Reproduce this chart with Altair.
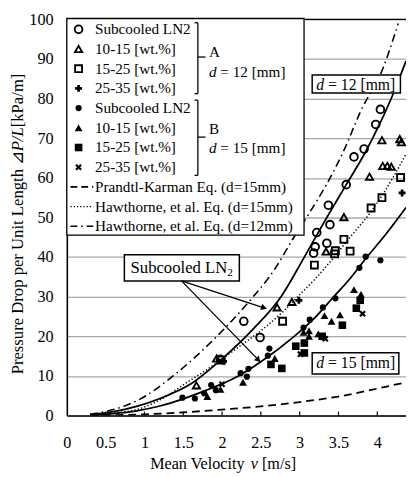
import math
import altair as alt
import pandas as pd

FONT = "Liberation Serif"
W, H = 346, 404          # plot area in px
XMAX, YMAX = 4.37, 100.0
PX0, PY0 = 68, 15        # page position of plot origin (top-left)

# ---------------- data ----------------
x_ticks = [0, 0.5, 1, 1.5, 2, 2.5, 3, 3.5, 4]
y_ticks = [0, 10, 20, 30, 40, 50, 60, 70, 80, 90, 100]

# A : d = 12 mm
a_ln2_x = [1.98, 2.28, 2.49, 3.18, 3.20, 3.22, 3.35, 3.39, 3.37, 3.60, 3.70, 3.83, 3.98, 4.04]
a_ln2_y = [14.2, 23.8, 19.7, 41.0, 42.6, 46.2, 43.5, 48.2, 53.1, 58.3, 65.3, 67.3, 73.5, 77.3]
a_1015_x = [1.67, 1.93, 2.71, 2.90, 3.34, 3.57, 3.90, 4.07, 4.13, 4.18, 4.06, 4.29, 4.31]
a_1015_y = [7.6, 14.4, 27.3, 28.7, 41.4, 50.1, 60.3, 63.0, 63.0, 62.8, 69.5, 69.8, 69.0]
a_1525_x = [1.99, 2.78, 3.19, 3.45, 3.46, 3.65, 3.57, 3.92, 4.06, 4.30]
a_1525_y = [14.0, 23.8, 38.0, 40.8, 41.6, 41.5, 44.5, 52.4, 55.0, 60.1]
a_2535_x = [2.02, 2.99, 4.32]
a_2535_y = [13.7, 29.1, 56.2]

# B : d = 15 mm
b_ln2_x = [1.49, 1.65, 1.77, 1.86, 1.92, 2.24, 2.34, 2.32, 2.59, 2.61, 3.05, 3.13, 3.30, 3.46, 3.77, 3.85, 4.04]
b_ln2_y = [4.5, 4.3, 5.6, 7.7, 6.4, 10.7, 11.8, 9.8, 15.1, 16.9, 22.2, 24.2, 27.3, 29.6, 37.3, 40.1, 39.2]
b_1015_x = [1.81, 1.98, 2.27, 2.68, 3.05, 3.12, 3.12, 3.24, 3.32, 3.41, 3.52, 3.70, 3.79]
b_1015_y = [4.8, 6.6, 8.4, 14.4, 21.0, 21.4, 20.0, 20.6, 25.2, 23.8, 25.4, 31.8, 30.6]
b_1525_x = [2.63, 2.77, 2.95, 3.06, 3.06, 3.29, 3.55, 3.73, 3.78]
b_1525_y = [12.9, 11.9, 17.5, 18.3, 15.8, 20.0, 22.8, 27.1, 29.1]
b_2535_x = [2.00, 3.01, 3.33, 3.81]
b_2535_y = [7.9, 15.5, 19.4, 25.7]

# curves
fit12_x = [0.3, 0.6, 0.9, 1.2, 1.6, 2.0, 2.4, 2.76, 3.06, 3.3, 3.6, 3.85, 4.04, 4.2, 4.37]
fit12_y = [0.2, 1.0, 2.3, 4.3, 8.0, 14.3, 21.8, 30.0, 40.0, 48.3, 58.3, 66.6, 74.0, 81.0, 89.5]
fit15_x = [0.3, 0.6, 0.9, 1.2, 1.5, 1.8, 2.0, 2.21, 2.5, 2.93, 3.2, 3.43, 3.65, 3.85, 4.1, 4.37]
fit15_y = [0.1, 0.5, 1.2, 2.4, 4.2, 6.4, 8.0, 10.0, 13.6, 20.0, 24.8, 29.8, 34.6, 39.6, 45.5, 52.5]
pk15_x = [0.3, 0.5, 1.0, 1.5, 2.0, 2.5, 3.0, 3.5, 4.0, 4.37]
pk15_y = [0.0, 0.05, 0.3, 0.8, 1.5, 2.3, 3.4, 4.8, 6.8, 8.4]
haw15_x = [0.3, 0.6, 0.95, 1.25, 1.55, 1.8, 2.05, 2.3, 2.57, 2.8, 3.0, 3.2, 3.4, 3.67, 3.92, 4.06, 4.2, 4.37]
haw15_y = [0.1, 0.6, 1.8, 4.5, 8.4, 11.5, 15.0, 18.5, 22.5, 26.5, 30.5, 34.5, 39.0, 45.5, 51.5, 55.5, 60.0, 66.0]
haw12_x = [0.3, 0.6, 0.95, 1.37, 1.75, 2.13, 2.38, 2.68, 2.91, 3.12, 3.35, 3.56, 3.79, 4.07, 4.27]
haw12_y = [0.3, 1.5, 4.2, 10.0, 16.5, 24.0, 29.5, 37.0, 44.5, 51.0, 58.5, 66.5, 77.0, 87.5, 99.0]

series_labels = ["Subcooled LN2", "10-15 [wt.%]", "15-25 [wt.%]", "25-35 [wt.%]",
                 "Subcooled LN2", "10-15 [wt.%]", "15-25 [wt.%]", "25-35 [wt.%]"]
curve_labels = ["Prandtl-Karman Eq. (d=15mm)", "Hawthorne, et al. Eq. (d=15mm)",
                "Hawthorne, et al. Eq. (d=12mm)"]

# ---------------- helpers ----------------
def P(px, py):
    """page pixel -> data coordinates"""
    return ((px - PX0) * XMAX / W, YMAX - (py - PY0) * YMAX / H)

def R(rx, ry):
    """plot-relative pixel -> data coordinates"""
    return (rx * XMAX / W, YMAX - ry * YMAX / H)

xscale = alt.Scale(domain=[0, XMAX], nice=False, zero=False)
yscale = alt.Scale(domain=[0, YMAX], nice=False, zero=False)
xaxis = alt.Axis(values=x_ticks, labelExpr="'' + datum.value", title=None, grid=False,
                 tickSize=0, labelPadding=20, domainColor="black", domainWidth=1.6,
                 labelFont=FONT, labelFontSize=16.5, labelColor="black",
                 labelFlush=False, labelOverlap=False, labelBound=False)
yaxis = alt.Axis(values=y_ticks, title=None, grid=True, gridColor="#a8a8a8", gridWidth=1.3,
                 tickSize=0, labelPadding=14, domainColor="black", domainWidth=1.6,
                 labelFont=FONT, labelFontSize=16.5, labelColor="black",
                 labelOverlap=False, labelBound=False)

def X(f):
    return alt.X(f, type="quantitative", scale=xscale, axis=xaxis)

def Y(f):
    return alt.Y(f, type="quantitative", scale=yscale, axis=yaxis)

def X2(f):
    return alt.X2(f)

def Y2(f):
    return alt.Y2(f)

layers = []

# ---------------- curves ----------------
curve_specs = [
    (fit12_x, fit12_y, None, 1.8),
    (fit15_x, fit15_y, None, 1.8),
    (pk15_x, pk15_y, [8, 5], 1.8),
    (haw15_x, haw15_y, [1.3, 2.2], 1.5),
    (haw12_x, haw12_y, [8, 4, 1.5, 4], 1.6),
]
for cx, cy, dash, sw in curve_specs:
    df = pd.DataFrame({"x": cx, "y": cy})
    kw = dict(color="black", strokeWidth=sw, interpolate="monotone", clip=True)
    if dash:
        kw["strokeDash"] = dash
    layers.append(alt.Chart(df).mark_line(**kw).encode(x=X("x"), y=Y("y")))

# top border of plot
tb = pd.DataFrame({"x": [0], "x2": [XMAX], "y": [YMAX]})
layers.append(alt.Chart(tb).mark_rule(color="black", strokeWidth=1.3).encode(x=X("x"), x2=X2("x2"), y=Y("y")))

# inward x ticks
tk = pd.DataFrame({"x": x_ticks[1:], "y": [0] * (len(x_ticks) - 1), "y2": [4 * YMAX / H] * (len(x_ticks) - 1)})
layers.append(alt.Chart(tk).mark_rule(color="black", strokeWidth=1.2).encode(x=X("x"), y=Y("y"), y2=Y2("y2")))

# ---------------- legend box ----------------
lx0, ly0 = R(0, -1)
lx1, ly1 = R(242, 220)
lb = pd.DataFrame({"x": [lx0], "x2": [lx1], "y": [ly0], "y2": [ly1]})
layers.append(alt.Chart(lb).mark_rect(fill="white", stroke="black", strokeWidth=1.3)
              .encode(x=X("x"), x2=X2("x2"), y=Y("y"), y2=Y2("y2")))

row_y = [10 + 20.1 * i for i in range(11)]
SYM_X = 12
TXT_X = 28.7

X_PATH = ("M0.495,-0.919L0.919,-0.495L0.424,0L0.919,0.495L0.495,0.919L0,0.424"
          "L-0.495,0.919L-0.919,0.495L-0.424,0L-0.919,-0.495L-0.495,-0.919L0,-0.424Z")

marker_specs = [
    (a_ln2_x, a_ln2_y, dict(shape="circle", filled=False, size=62, strokeWidth=1.9)),
    (a_1015_x, a_1015_y, dict(shape="triangle-up", filled=False, size=54, strokeWidth=1.9)),
    (a_1525_x, a_1525_y, dict(shape="square", filled=False, size=50, strokeWidth=1.9)),
    (a_2535_x, a_2535_y, dict(shape="cross", filled=True, size=50, strokeWidth=0)),
    (b_ln2_x, b_ln2_y, dict(shape="circle", filled=True, size=40, strokeWidth=0)),
    (b_1015_x, b_1015_y, dict(shape="triangle-up", filled=True, size=64, strokeWidth=0)),
    (b_1525_x, b_1525_y, dict(shape="square", filled=True, size=60, strokeWidth=0)),
    (b_2535_x, b_2535_y, dict(shape=X_PATH, filled=True, size=54, strokeWidth=0)),
]
for i, (mx, my, st) in enumerate(marker_specs):
    sx, sy = R(SYM_X, row_y[i])
    df = pd.DataFrame({"x": list(mx) + [sx], "y": list(my) + [sy]})
    layers.append(alt.Chart(df).mark_point(color="black", opacity=1, **st).encode(x=X("x"), y=Y("y")))

# legend line samples
for j, (dash, sw) in enumerate([([7, 4], 1.8), ([1.3, 2.0], 1.5), ([7, 4, 1.5, 4], 1.6)]):
    a0, yy = R(3.7, row_y[8 + j])
    a1, _ = R(27, row_y[8 + j])
    df = pd.DataFrame({"x": [a0], "x2": [a1], "y": [yy]})
    layers.append(alt.Chart(df).mark_rule(color="black", strokeWidth=sw, strokeDash=dash)
                  .encode(x=X("x"), x2=X2("x2"), y=Y("y")))

# brackets
br = []
for top, bot, mid in [(3.3, 75.7, 38.3), (82.3, 159.0, 120.0)]:
    br.append((R(133.7, top), R(133.7, bot)))
    br.append((R(130.3, top), R(133.7, top)))
    br.append((R(130.3, bot), R(133.7, bot)))
    br.append((R(133.7, mid), R(141.5, mid)))
brdf = pd.DataFrame({"x": [a[0] for a, b in br], "y": [a[1] for a, b in br],
                     "x2": [b[0] for a, b in br], "y2": [b[1] for a, b in br]})
layers.append(alt.Chart(brdf).mark_rule(color="black", strokeWidth=1.3)
              .encode(x=X("x"), y=Y("y"), x2=X2("x2"), y2=Y2("y2")))

# ---------------- text helper ----------------
def texts(items, size, style="normal", align="left", angle=0):
    df = pd.DataFrame({"t": [t for t, _ in items],
                       "x": [p[0] for _, p in items], "y": [p[1] for _, p in items]})
    return (alt.Chart(df).mark_text(font=FONT, fontSize=size, fontStyle=style, align=align,
                                    baseline="middle", angle=angle, color="black")
            .encode(x=X("x"), y=Y("y"), text="t:N"))

LF = 15.5
leg_items = [(lab, R(TXT_X, row_y[i])) for i, lab in enumerate(series_labels + curve_labels)]
leg_items += [("A", P(213, 48.3)), ("= 12 [mm]", P(213 + 0.75 * LF, 68.3)),
              ("B", P(213, 126.7)), ("= 15 [mm]", P(213 + 0.75 * LF, 146.7))]
layers.append(texts(leg_items, LF))
layers.append(texts([("d", P(213, 68.3)), ("d", P(213, 146.7))], LF, style="italic"))

# ---------------- annotation boxes ----------------
boxes = [((318.3, 71.7), (408.3, 90.0)), ((318.3, 355.0), (406.7, 376.7)), ((126.7, 255.0), (244.0, 281.7))]
bdf = pd.DataFrame({"x": [P(*a)[0] for a, b in boxes], "y": [P(*a)[1] for a, b in boxes],
                    "x2": [P(*b)[0] for a, b in boxes], "y2": [P(*b)[1] for a, b in boxes]})
layers.append(alt.Chart(bdf).mark_rect(fill="white", stroke="black", strokeWidth=1.5)
              .encode(x=X("x"), y=Y("y"), x2=X2("x2"), y2=Y2("y2")))
BF = 16
layers.append(texts([("d", P(322.5, 81.5)), ("d", P(322.5, 366.0))], BF, style="italic"))
layers.append(texts([("= 12 [mm]", P(322.5 + 0.75 * BF, 81.5)),
                     ("= 15 [mm]", P(322.5 + 0.75 * BF, 366.0))], BF))
layers.append(texts([("Subcooled LN", P(133, 268.5))], 17))
layers.append(texts([("2", P(133 + 5.805 * 17, 273.5))], 11.5))

# arrows
ax0, ay0 = P(185, 281.7)
arrow_ends = [(2.57, 27.0), (2.49, 13.6)]
pxx, pxy = W / XMAX, H / YMAX
adf = pd.DataFrame({"x": [ax0] * 2, "y": [ay0] * 2,
                    "x2": [e[0] for e in arrow_ends], "y2": [e[1] for e in arrow_ends]})
layers.append(alt.Chart(adf).mark_rule(color="black", strokeWidth=1.3)
              .encode(x=X("x"), y=Y("y"), x2=X2("x2"), y2=Y2("y2")))
for ex, ey in arrow_ends:
    ddx, ddy = (ex - ax0) * pxx, (ay0 - ey) * pxy
    ang = math.degrees(math.atan2(ddy, ddx)) % 360
    L = math.hypot(ddx, ddy)
    cx, cy = ex - 2.5 * (ddx / L) / pxx, ey + 2.5 * (ddy / L) / pxy
    hd = pd.DataFrame({"x": [cx], "y": [cy]})
    layers.append(alt.Chart(hd).mark_point(shape="triangle-right", filled=True, color="black",
                                           size=45, angle=ang, opacity=1)
                  .encode(x=X("x"), y=Y("y")))

# ---------------- axis titles (composed for italics) ----------------
TF = 16.5
TY = 469
layers.append(texts([("Mean Velocity", P(153, TY)),
                     ("[m/s]", P(153 + 6.221 * TF + 0.694 * TF, TY))], TF))
layers.append(texts([("v", P(153 + 6.221 * TF, TY))], TF, style="italic"))

YF = 17.0
yb = 377.0
y_seg1 = yb
y_tri = y_seg1 - 12.581 * YF
y_pl = y_tri - 0.8 * YF
y_kpa = y_pl - 1.445 * YF
layers.append(texts([("Pressure Drop per Unit Length", P(18, y_seg1)),
                     ("⊿", P(18, y_tri)),
                     ("[kPa/m]", P(18, y_kpa))], YF, angle=270))
layers.append(texts([("P/L", P(18, y_pl))], YF, style="italic", angle=270))

chart = (alt.layer(*layers)
         .properties(width=W, height=H, autosize=alt.AutoSizeParams(type="none"),
                     padding={"left": 60, "top": 7, "right": 0, "bottom": 58})
         .configure_view(stroke=None))

chart.save("out.html", embed_options={"renderer": "svg", "actions": False})
